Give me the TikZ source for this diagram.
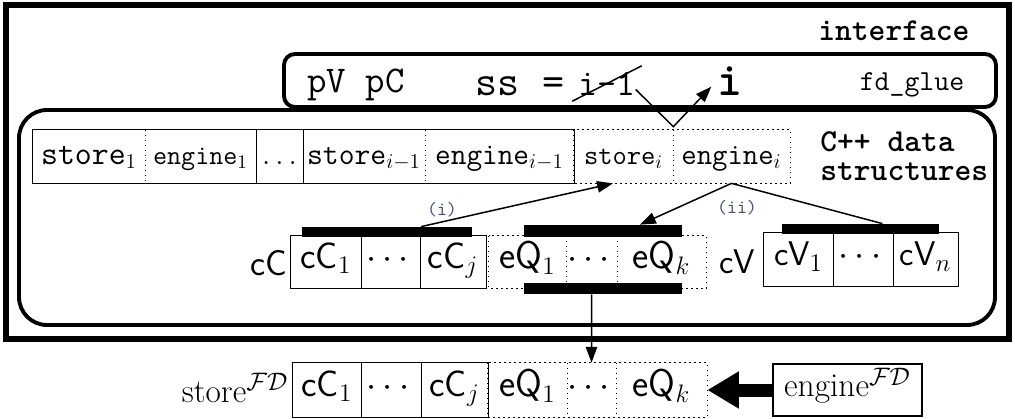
\documentclass[tikz,border=0pt]{standalone}
\usepackage{amsmath}
\usepackage{amssymb}
\usepackage{fontspec}
\usepackage{tikz}
\usetikzlibrary{arrows.meta}

\definecolor{labelgray}{RGB}{70,80,115}

\begin{document}
\begin{tikzpicture}[x=0.02cm, y=-0.02cm,
    cell/.style={inner sep=0pt, text height=1em, text depth=0.3em},
    toprow/.style={text height=1.1em, text depth=0.2em},
    cellline/.style={line width=0.85pt},
    bar/.style={fill=black, inner sep=0pt},
    link/.style={line width=0.85pt, -{Triangle[length=9pt,width=6.5pt]}},
    heading/.style={inner sep=0pt, anchor=base west, font=\fontsize{18.2}{18}\selectfont\ttfamily\bfseries},
    tag/.style={text=labelgray, font=\fontsize{10.8}{11}\selectfont\ttfamily}]
    \useasboundingbox (0,0) rectangle (1015,419);

    % frames: interface, fd_glue, C++ side
    \draw[line width=2.9pt] (6,5) rectangle (1009,339);
    \draw[line width=2.2pt, rounded corners=0.22cm] (284,54) rectangle (996,107);
    \draw[line width=2.2pt, rounded corners=0.56cm] (19,110) rectangle (995,325);

    \node[heading] (iface) at (818,40) {interface};
    \node[heading] (cpp) at (820,151) {C++ data};
    \node[heading] (cpp2) at (820,180) {structures};

    % fd_glue contents
    \node[font=\fontsize{21.5}{22}\selectfont\ttfamily, anchor=base west, inner sep=0pt] (pvpc) at (307,92) {pV pC};
    \node[font=\fontsize{24.4}{25}\selectfont\ttfamily, anchor=base] (ss) at (520,95) {ss =};
    \node[font=\fontsize{21}{21}\selectfont\ttfamily, anchor=base] (old) at (607,95) {i-1};
    \node[font=\fontsize{27}{27}\selectfont\ttfamily\bfseries, anchor=base] (new) at (730,95) {i};
    \node[font=\fontsize{16.5}{17}\selectfont\ttfamily, anchor=base] (glue) at (912,90) {fd\_glue};

    % cells: name/left/right/size/text
    \foreach \n/\a/\b/\f/\t in {
    st1/33/145/18.7/{\ttfamily store$_1$},
    en1/145/256/15.5/{\ttfamily engine$_1$},
    dd1/256/303/17/{$\ldots$},
    sti1/303/425/17.5/{\ttfamily store$_{i-1}$},
    eni1/425/574/17.3/{\ttfamily engine$_{i-1}$},
    sti/574/673/15.8/{\ttfamily store$_i$},
    eni/673/790/17/{\ttfamily engine$_i$}
    }
    {
            \node[cell, toprow, minimum width={(\b-\a)*0.02cm}, minimum height=1.06cm,
                font=\fontsize{\f}{\f}\selectfont] (\n) at ({(\a+\b)/2},156.5) {\t};
        }
    % cells: name/left/right/y/height/size/text
    \foreach \n/\a/\b/\y/\h/\f/\t in {
    cc1/291/361/262/52/21/{$\mathsf{cC}_1$},
    ccd/361/420/262/52/21/{$\cdots$},
    ccj/420/486/262/52/21/{$\mathsf{cC}_j$},
    eq1/489/566/262/52/22/{$\mathsf{eQ}_1$},
    eqd/566/617/262/52/22/{$\cdots$},
    eqk/617/706/262/52/22/{$\mathsf{eQ}_k$},
    cv1/764/833/259.5/53/19.5/{$\mathsf{cV}_1$},
    cvd/833/893/259.5/53/19.5/{$\cdots$},
    cvn/893/958/259.5/53/19.5/{$\mathsf{cV}_n$},
    lc1/293/361/390/54/21/{$\mathsf{cC}_1$},
    lcd/361/421/390/54/21/{$\cdots$},
    lcj/421/488/390/54/21/{$\mathsf{cC}_j$},
    lq1/488/567/390/54/22/{$\mathsf{eQ}_1$},
    lqd/567/616/390/54/20/{$\cdots$},
    lqk/616/707/390/54/22/{$\mathsf{eQ}_k$}
    }
    {
            \node[cell, minimum width={(\b-\a)*0.02cm}, minimum height={\h*0.02cm},
                font=\fontsize{\f}{\f}\selectfont] (\n) at ({(\a+\b)/2},\y) {\t};
        }
    \draw[cellline] (st1.north west) rectangle (eni1.south east);
    \draw[cellline, dotted] (sti.north west) rectangle (eni.south east);
    \draw[cellline] (cc1.north west) rectangle (ccj.south east);
    \draw[cellline, dotted] (eq1.north west) rectangle (eqk.south east);
    \draw[cellline] (cv1.north west) rectangle (cvn.south east);
    \draw[cellline] (lc1.north west) rectangle (lcj.south east);
    \draw[cellline, dotted] (lq1.north west) rectangle (lqk.south east);
    \foreach \c/\s in {st1/dotted, en1/solid, dd1/solid, sti1/dotted, sti/dotted,
        cc1/solid, ccd/solid, eq1/dotted, eqd/dotted, cv1/solid, cvd/solid,
        lc1/solid, lcd/solid, lq1/dotted, lqd/dotted}
        \draw[cellline, \s] (\c.north east) -- (\c.south east);

    % labels beside the cell rows
    \node[font=\fontsize{20.5}{20}\selectfont\sffamily, anchor=base east, inner sep=1pt] (cClbl) at (289,275) {cC};
    \node[font=\fontsize{19.5}{20}\selectfont\sffamily, anchor=base east, inner sep=1pt] (cVlbl) at (757,273) {cV};
    \node[font=\fontsize{19}{19}\selectfont, anchor=base east, inner sep=2pt] (storeFD) at (292,402) {store$^{\mathcal{FD}}$};
    \node[draw, cellline, minimum width=2.98cm, minimum height=1.04cm, text height=1em, text depth=0.3em,
        font=\fontsize{19}{19}\selectfont] (engFD) at (847.5,390) {engine$^{\mathcal{FD}}$};

    % bars: name/left/right/y/height
    \foreach \n/\a/\b/\y/\h in {cCbar/302/472/232/10, eQbar/524/682/231/12,
        eQbarB/524/682/288.5/11, cVbar/782/939/229/10}
        \node[bar, minimum width={(\b-\a)*0.02cm}, minimum height={\h*0.02cm}] (\n) at ({(\a+\b)/2},\y) {};

    % ss moves from i-1 to i
    \draw[cellline] (old.south west) -- (old.north east);
    \draw[link] ([xshift=-0.12cm,yshift=-0.12cm]old.east) -- ([yshift=0.06cm]sti.north east) -- ([yshift=-0.12cm]new.west);

    \draw[link] ([xshift=0.68cm]cCbar.north) -- ([xshift=-0.21cm]sti.south);
    \draw[link] (eni.south) -- ([xshift=0.74cm]eQbar.north);
    \draw[cellline] (eni.south) -- ([xshift=0.44cm]cVbar.north);
    \node[tag] (lbl1) at (442,210) {(i)};
    \node[tag] (lbl2) at (737,208) {(ii)};

    \draw[link] ([xshift=-0.23cm]eQbarB.south) -- (lqd.north);
    \draw[line width=7.4pt, -{Triangle[length=18pt,width=20pt]}] (engFD.west) -- (lqk.east);
\end{tikzpicture}
\end{document}
